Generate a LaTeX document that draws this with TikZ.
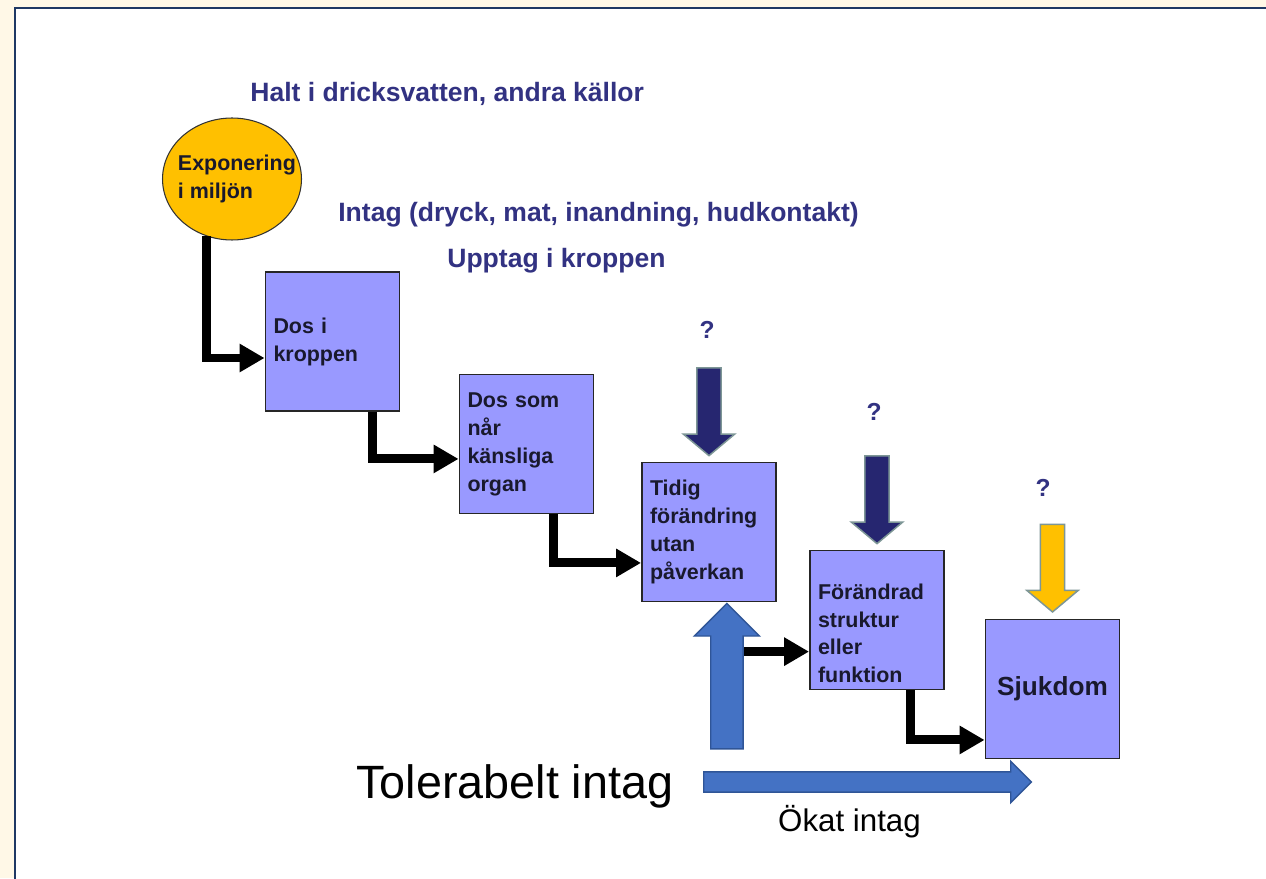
\documentclass[tikz,border=0pt]{standalone}
\usepackage{fontspec}
\setmainfont{Liberation Sans}
\usepackage{xcolor}
\usepackage{tikz}
\usetikzlibrary{shapes.geometric, shapes.arrows, arrows.meta, calc, positioning}

\definecolor{cream}{RGB}{255,248,231}
\definecolor{framenavy}{RGB}{31,56,100}
\definecolor{headnavy}{RGB}{50,50,130}
\definecolor{boxblue}{RGB}{153,153,255}
\definecolor{sourcegold}{RGB}{255,192,0}
\definecolor{arrownavy}{RGB}{38,38,112}
\definecolor{arrowedge}{RGB}{125,150,150}
\definecolor{intagblue}{RGB}{68,114,196}
\definecolor{intagedge}{RGB}{47,85,151}
\definecolor{boxtext}{RGB}{25,25,45}

\begin{document}
\begin{tikzpicture}[
    x=0.02cm, y=-0.02cm,
    heading/.style={anchor=base west, inner sep=0, text=headnavy, font=\bfseries\fontsize{15.1}{18}\selectfont},
    stage/.style={rectangle, draw=black!85, line width=1.1pt, fill=boxblue, text=boxtext, minimum height=2.78cm, text width=2.36cm, inner xsep=0.16cm, align=left, font=\bfseries\fontsize{12.2}{15.9}\selectfont},
    source/.style={ellipse, draw=black!80, line width=0.6pt, fill=sourcegold, minimum width=2.78cm, minimum height=2.44cm, inner sep=0},
    flow/.style={-{Triangle[length=14.2pt, width=15.3pt]}, line width=5.1pt},
    query/.style={text=headnavy, font=\bfseries\fontsize{14}{16}\selectfont},
    qarrow/.style={single arrow, draw=arrowedge, line width=0.85pt, rotate=-90, anchor=tip, minimum height=49.9pt, inner xsep=0pt, inner ysep=6.5pt, single arrow head extend=7.65pt, single arrow tip angle=100},
    fatarrow/.style={single arrow, draw=intagedge, fill=intagblue, line width=0.8pt, inner xsep=0pt, single arrow tip angle=90}
]

% Background and frame
\useasboundingbox (0,0) rectangle (1266,878);
\clip (0,0) rectangle (1266,878);
\fill[cream] (0,0) rectangle (1266,878);
\draw[framenavy, line width=1.4pt, fill=white] (15,8) rectangle (1290,900);

% Headings
\node[heading] (halt) at (250,102) {Halt i dricksvatten, andra källor};
\node[heading] (intag) at (338,222) {Intag (dryck, mat, inandning, hudkontakt)};
\node[heading] (upptag) at (447,268) {Upptag i kroppen};

% Exposure
\node[source, label={[xshift=2.8pt, align=left, text=boxtext, font=\bfseries\fontsize{12.2}{15.9}\selectfont]center:Exponering\\i miljön}] (expo) at (232,179) {};

% Stages
\node[stage] (dose) at (332.5,341.5) {Dos i\\kroppen};
\node[stage] (organ) at (526.5,444) {Dos som\\når\\känsliga\\organ};
\node[stage] (early) at (709,532) {Tidig\\förändring\\utan\\påverkan};
\node[stage, text height=24pt] (change) at (877,620) {Förändrad\\struktur\\eller\\funktion};
\node[stage, align=center, font=\bfseries\fontsize{14.9}{18}\selectfont] (disease) at (1052.5,689) {Sjukdom};

% Connections between stages
\draw[flow] (expo.246) |- ([yshift=-9.4pt]dose.west);
\draw[flow] ([xshift=23pt]dose.south) |- ([yshift=-8.5pt]organ.west);
\draw[flow] ([xshift=15.6pt]organ.south) |- ([yshift=-17.6pt]early.west);
\draw[flow, shorten <=8pt] ([xshift=10.2pt]early.south) |- ([yshift=-18pt]change.west);
\draw[flow] ([xshift=19.3pt]change.south) |- ([yshift=-29pt]disease.west);

% Unknown influences
\node[query] (q1) at (707,330) {?};
\node[query] (q2) at (874,412) {?};
\node[query] (q3) at (1043,488) {?};
\node[qarrow, fill=arrownavy] (hit1) at ([yshift=2.8pt]early.north) {};
\node[qarrow, fill=arrownavy] (hit2) at ([yshift=2.8pt]change.north) {};
\node[qarrow, fill=sourcegold] (hit3) at ([yshift=3.2pt]disease.north) {};

% Intake
\node[fatarrow, rotate=90, anchor=tip, minimum height=82.8pt, inner ysep=8.8pt, single arrow head extend=9.35pt] (tolup) at ([xshift=10.2pt]early.south) {};
\node[fatarrow, anchor=tail, minimum height=186.5pt, inner ysep=5.4pt, single arrow head extend=5.95pt] (okning) at (703,782) {};
\node[anchor=base west, inner sep=0, font=\fontsize{26.6}{30}\selectfont] (tolerabelt) at (356,798) {Tolerabelt intag};
\node[anchor=base, inner sep=0, font=\fontsize{17.8}{21}\selectfont] (okat) at (849.5,831) {Ökat intag};

\end{tikzpicture}
\end{document}
